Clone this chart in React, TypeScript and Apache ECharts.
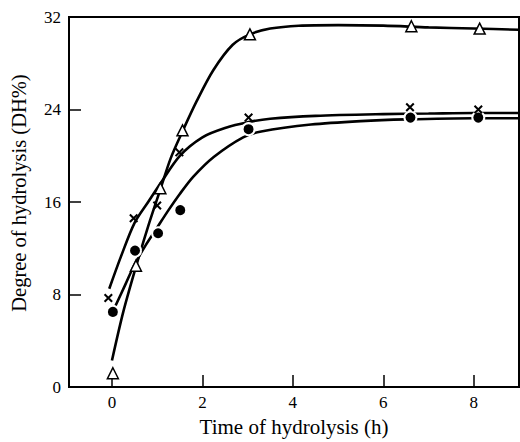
import React, { useEffect, useRef } from "react";
import * as echarts from "echarts";

// Measured points (x: time in h, y: DH%)
const triangleX = [0.02, 0.53, 1.07, 1.56, 3.05, 6.62, 8.13];
const triangleY = [1.2, 10.5, 17.2, 22.2, 30.5, 31.2, 31.0];
const crossX = [-0.08, 0.48, 1.0, 1.49, 3.02, 6.59, 8.1];
const crossY = [7.7, 14.6, 15.7, 20.3, 23.3, 24.2, 24.0];
const circleX = [0.02, 0.51, 1.02, 1.51, 3.02, 6.6, 8.1];
const circleY = [6.5, 11.8, 13.3, 15.3, 22.3, 23.3, 23.3];

// Fitted curves
const triangleCurve = [
  [0, 2.3], [0.25, 6.5], [0.53, 10.4], [0.8, 13.9], [1.07, 17.1], [1.3, 19.8],
  [1.57, 22.2], [1.87, 24.7], [2.24, 27.4], [2.67, 29.6], [3.05, 30.5], [3.5, 31.0],
  [4.13, 31.25], [5, 31.3], [6, 31.25], [7, 31.1], [8, 31.0], [9, 30.9],
];
const crossCurve = [
  [-0.06, 8.5], [0.2, 11.3], [0.5, 14.2], [0.8, 16.0], [1.07, 17.6], [1.5, 20.0],
  [2.0, 21.6], [2.5, 22.4], [3.0, 22.9], [3.5, 23.2], [4.5, 23.45], [6, 23.6],
  [7, 23.65], [8, 23.7], [9, 23.7],
];
const circleCurve = [
  [0.05, 6.8], [0.3, 8.9], [0.5, 10.6], [0.75, 12.3], [1.0, 13.8], [1.25, 15.3],
  [1.5, 16.7], [1.8, 18.2], [2.25, 19.9], [2.9, 21.6], [3.3, 22.1], [4.4, 22.7],
  [5.5, 23.0], [6.5, 23.15], [8, 23.25], [9, 23.25],
];

const xTicks = [0, 2, 4, 6, 8];

const zip = (xs: number[], ys: number[]) => xs.map((x, i) => [x, ys[i]]);

const CROSS =
  "path://M0,1.6L1.6,0L10,8.4L8.4,10Z M8.4,0L10,1.6L1.6,10L0,8.4Z";

const FONT = "'Liberation Serif', 'Times New Roman', serif";

export default function App() {
  const ref = useRef<HTMLDivElement>(null);
  useEffect(() => {
    if (!ref.current) return;
    const chart = echarts.init(ref.current, undefined, { renderer: "svg" });
    const lineSeries = (data: number[][]) => ({
      type: "line",
      data,
      smooth: 0.3,
      showSymbol: false,
      symbol: "none",
      lineStyle: { color: "#000", width: 2.6 },
      z: 2,
    });
    chart.setOption({
      animation: false,
      backgroundColor: "#fff",
      textStyle: { fontFamily: FONT },
      grid: {
        left: 63,
        right: 1,
        top: 17,
        bottom: 48,
        show: true,
        borderColor: "#000",
        borderWidth: 2,
      },
      xAxis: {
        type: "value",
        min: -0.95,
        max: 9,
        name: "Time of hydrolysis (h)",
        nameLocation: "middle",
        nameGap: 27,
        nameTextStyle: { fontFamily: FONT, fontSize: 21, color: "#000" },
        axisLine: { show: true, onZero: false, lineStyle: { color: "#000", width: 2 } },
        axisTick: {
          show: true,
          inside: true,
          length: 12,
          customValues: xTicks,
          lineStyle: { color: "#000", width: 1.5 },
        },
        axisLabel: {
          customValues: xTicks,
          fontFamily: FONT,
          fontSize: 17,
          color: "#000",
          margin: 7,
        },
        splitLine: { show: false },
      },
      yAxis: {
        type: "value",
        min: 0,
        max: 32,
        interval: 8,
        name: "Degree of hydrolysis (DH%)",
        nameLocation: "middle",
        nameGap: 40,
        nameTextStyle: {
          fontFamily: FONT,
          fontSize: 20.5,
          color: "#000",
          padding: [0, 0, 0, 18],
        },
        axisLine: { show: true, onZero: false, lineStyle: { color: "#000", width: 2 } },
        axisTick: {
          show: true,
          inside: true,
          length: 12,
          lineStyle: { color: "#000", width: 1.5 },
        },
        axisLabel: {
          fontFamily: FONT,
          fontSize: 17,
          color: "#000",
          margin: 8,
        },
        splitLine: { show: false },
      },
      series: [
        lineSeries(triangleCurve),
        lineSeries(crossCurve),
        lineSeries(circleCurve),
        {
          type: "scatter",
          data: zip(circleX, circleY),
          symbol: "circle",
          symbolSize: 12,
          itemStyle: { color: "#000", borderColor: "#fff", borderWidth: 2, opacity: 1 },
          z: 3,
        },
        {
          type: "scatter",
          data: zip(triangleX, triangleY),
          symbol: "triangle",
          symbolSize: 11,
          itemStyle: { color: "#fff", borderColor: "#000", borderWidth: 1.5, opacity: 1 },
          z: 3,
        },
        {
          type: "scatter",
          data: zip(crossX, crossY),
          symbol: CROSS,
          symbolSize: 9,
          itemStyle: { color: "#000", opacity: 1 },
          z: 3,
        },
      ],
    });
    return () => chart.dispose();
  }, []);
  return (
    <div
      ref={ref}
      style={{ position: "fixed", left: 0, top: 0, width: 520, height: 442, background: "#fff" }}
    />
  );
}
